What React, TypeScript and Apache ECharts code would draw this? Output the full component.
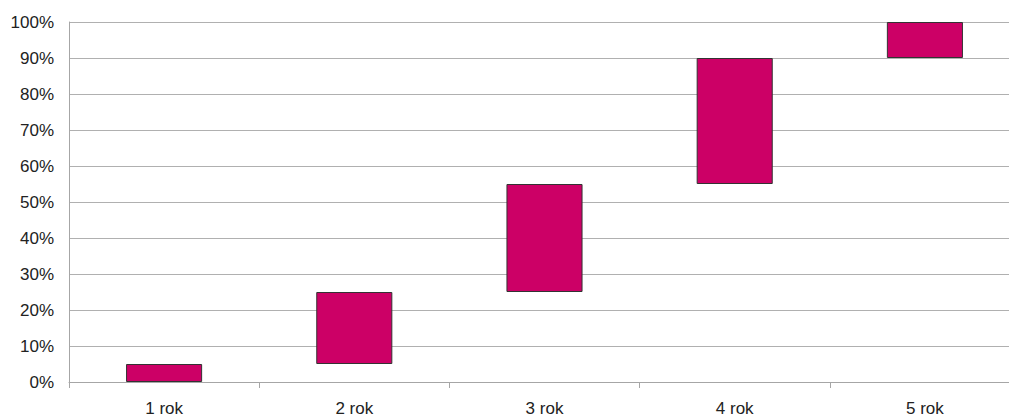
import React, { useEffect, useRef } from "react";
import * as echarts from "echarts";

const categories = ["1 rok", "2 rok", "3 rok", "4 rok", "5 rok"];
const baseValues = [0, 5, 25, 55, 90];
const barValues = [5, 20, 30, 35, 10];

export default function App() {
  const ref = useRef<HTMLDivElement>(null);
  useEffect(() => {
    if (!ref.current) return;
    const chart = echarts.init(ref.current, undefined, { renderer: "svg" });
    chart.setOption({
      animation: false,
      grid: { left: 69, right: 0, top: 22, bottom: 35, containLabel: false },
      xAxis: {
        type: "category",
        data: categories,
        boundaryGap: true,
        axisLine: { show: true, lineStyle: { color: "#a6a6a6", width: 1 } },
        axisTick: { show: true, length: 6, lineStyle: { color: "#a6a6a6" }, alignWithLabel: false },
        axisLabel: { color: "#222", fontFamily: "Liberation Sans, Arial, sans-serif", fontSize: 17, margin: 18 },
      },
      yAxis: {
        type: "value",
        min: 0,
        max: 100,
        interval: 10,
        axisLine: { show: true, lineStyle: { color: "#a6a6a6", width: 1 } },
        axisTick: { show: false },
        splitLine: { show: true, lineStyle: { color: "#b0b0b0", width: 1 } },
        axisLabel: {
          color: "#222",
          fontFamily: "Liberation Sans, Arial, sans-serif",
          fontSize: 17,
          margin: 15,
          formatter: "{value}%",
        },
      },
      series: [
        {
          type: "bar",
          stack: "s",
          data: baseValues,
          itemStyle: { color: "transparent" },
          barWidth: "40%",
          silent: true,
        },
        {
          type: "bar",
          stack: "s",
          data: barValues,
          barWidth: "40%",
          itemStyle: { color: "#cc0066", borderColor: "#333", borderWidth: 1 },
        },
      ],
    });
    return () => chart.dispose();
  }, []);
  return (
    <div style={{ position: "fixed", left: 0, top: 0, width: 1009, height: 417, background: "#fff", overflow: "hidden" }}>
      <div ref={ref} style={{ width: 1020, height: 417 }} />
    </div>
  );
}
